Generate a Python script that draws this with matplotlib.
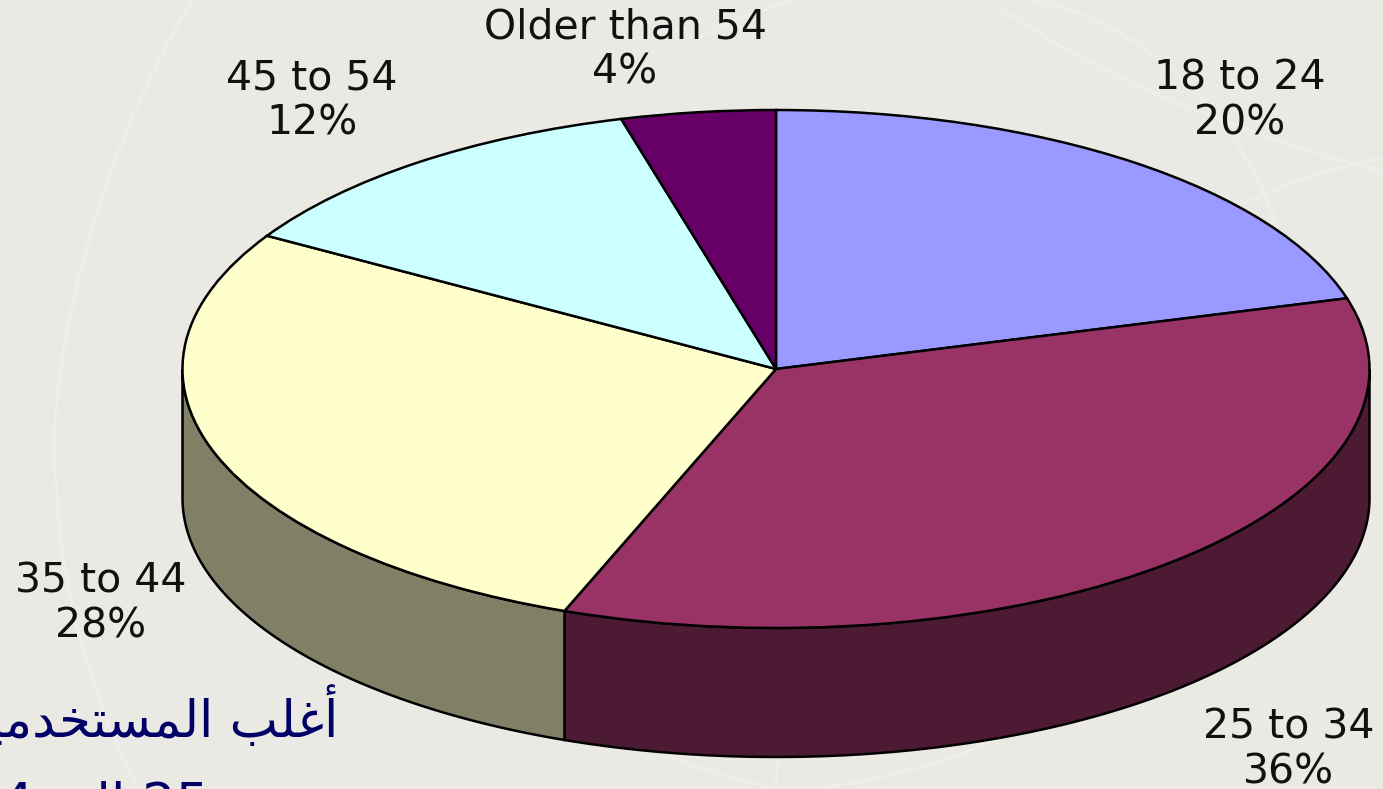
import numpy as np
import matplotlib
matplotlib.use("Agg")
import matplotlib.pyplot as plt
from matplotlib.path import Path
from matplotlib.patches import PathPatch

categories = ["18 to 24", "25 to 34", "35 to 44", "45 to 54", "Older than 54"]
percent_labels = [20, 36, 28, 12, 4]
# slice sizes as measured on the picture, the 3d view skews them a bit from the labels
values = [20.6, 35.2, 27.8, 12.2, 4.2]
top_colors = ["#9999FF", "#993366", "#FFFFCC", "#CCFFFF", "#660066"]
side_colors = ["#4D4D80", "#4D1A33", "#808066", "#668080", "#330033"]
label_pos = [(1240, 101), (1289, 750), (101, 604), (312, 101), (625, 50)]

# arabic written in presentation forms, matplotlib does no shaping by itself
arabic_top = "".join(reversed("\uFE83\uFECF\uFEE0\uFE90 \uFE8D\uFEDF\uFEE4\uFEB4\uFE98\uFEA8\uFEAA\uFEE3\uFEF4\uFEE6"))
arabic_bottom = "34 " + "".join(reversed("\uFE8D\uFEDF\uFEF0")) + " 25"

W, H = 1383, 789
cx, cy = 776, 369
rx, ry = 593.5, 259
depth = 129 / ry

fig = plt.figure(figsize=(W / 100, H / 100), dpi=100, facecolor="#EAE9E4")

# background swirls and text, in pixel coordinates
bg = fig.add_axes([0, 0, 1, 1])
bg.set_xlim(0, W)
bg.set_ylim(H, 0)
bg.axis("off")

swirls = [
    [(192, 0), (90, 170), (45, 380), (56, 480)],
    [(56, 480), (60, 600), (100, 720), (140, 789)],
    [(1000, 8), (1090, 70), (1210, 125), (1383, 172)],
    [(1030, 0), (1140, 20), (1240, 110), (1278, 230)],
    [(1383, 158), (1320, 170), (1270, 190), (1235, 208)],
    [(700, 36), (730, 22), (760, 10), (795, 0)],
    [(670, 757), (700, 770), (740, 780), (775, 789)],
    [(777, 757), (777, 765), (776, 780), (776, 789)],
    [(1040, 715), (1000, 745), (900, 780), (810, 789)],
]
for s in swirls:
    bg.add_patch(PathPatch(Path(s, [Path.MOVETO, Path.CURVE4, Path.CURVE4, Path.CURVE4]),
                           fc="none", ec="#EEEDE9", lw=2.5))

# pie axes, unit circle squashed into the ellipse
ax = fig.add_axes([0, 0, 1, 1])
ax.patch.set_alpha(0)

edges = np.cumsum([0] + values) / sum(values) * 2 * np.pi
for i in range(len(values)):
    a = max(edges[i], np.pi / 2)
    b = min(edges[i + 1], 3 * np.pi / 2)
    if a >= b:
        continue
    t = np.linspace(a, b, 200)
    xs = np.concatenate([np.sin(t), np.sin(t[::-1])])
    ys = np.concatenate([np.cos(t), np.cos(t[::-1]) - depth])
    ax.fill(xs, ys, fc=side_colors[i], ec="black", lw=1.8)

ax.pie(values, colors=top_colors, startangle=90, counterclock=False,
       wedgeprops={"edgecolor": "black", "linewidth": 1.8})
ax.set_aspect("auto")
ax.set_xlim(-cx / rx, (W - cx) / rx)
ax.set_ylim(-(H - cy) / ry, cy / ry)
ax.axis("off")

for cat, val, pos in zip(categories, percent_labels, label_pos):
    bg.text(pos[0], pos[1], f"{cat}\n{val}%", ha="center", va="center", fontsize=29.5,
            color="#111111", linespacing=1.17, zorder=5)

fig.add_artist(plt.Text(338 / W, 1 - 738 / H, arabic_top, ha="right", va="baseline",
                        fontsize=37, color="#000066", family="DejaVu Sans"))
fig.add_artist(plt.Text(209 / W, 1 - 821 / H, arabic_bottom, ha="right", va="baseline",
                        fontsize=38, color="#000066", family="DejaVu Sans"))

fig.savefig("out.png", dpi=100, facecolor=fig.get_facecolor())
